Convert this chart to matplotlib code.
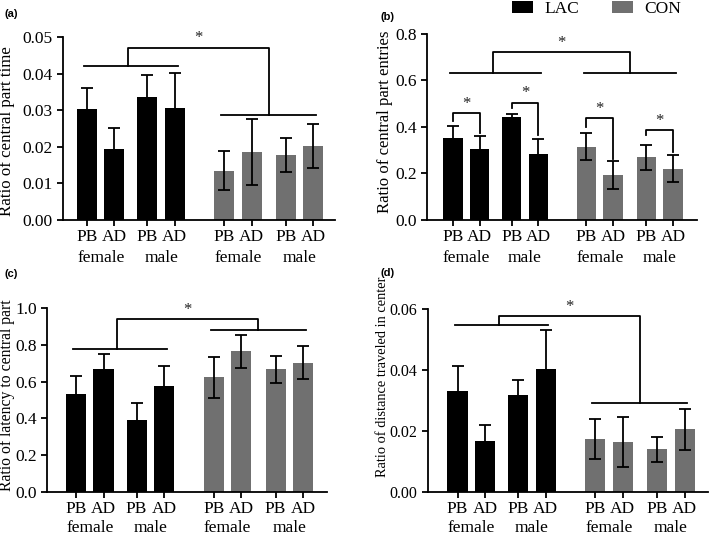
import matplotlib
matplotlib.use("Agg")
import matplotlib.pyplot as plt
import numpy as np

plt.rcParams['font.family'] = ['Liberation Serif', 'DejaVu Serif']

# bar order: PB female, AD female, PB male, AD male
pos_lac = [0, 1, 2.2, 3.2]
pos_con = [5.0, 6.0, 7.25, 8.25]
sub_labels = ['PB', 'AD', 'PB', 'AD']
sex_labels = ['female', 'male']

# (a) central part time
a_lac = [0.0302, 0.0195, 0.0336, 0.0305]
a_lac_err = [0.0058, 0.0057, 0.0060, 0.0098]
a_con = [0.0135, 0.0185, 0.0177, 0.0201]
a_con_err = [0.0054, 0.0090, 0.0047, 0.0060]

# (b) central part entries
b_lac = [0.352, 0.306, 0.442, 0.284]
b_lac_err = [0.054, 0.056, 0.015, 0.064]
b_con = [0.316, 0.194, 0.269, 0.220]
b_con_err = [0.058, 0.061, 0.052, 0.058]

# (c) latency to central part
c_lac = [0.531, 0.669, 0.393, 0.578]
c_lac_err = [0.102, 0.082, 0.092, 0.107]
c_con = [0.623, 0.764, 0.667, 0.703]
c_con_err = [0.110, 0.088, 0.073, 0.089]

# (d) distance traveled in center
d_lac = [0.0332, 0.0166, 0.0317, 0.0404]
d_lac_err = [0.0080, 0.0055, 0.0051, 0.0126]
d_con = [0.0173, 0.0165, 0.0140, 0.0205]
d_con_err = [0.0066, 0.0082, 0.0041, 0.0067]

GRAY = '#707070'
LW = 1.3

fig = plt.figure(figsize=(7.09, 5.35), dpi=100)


def panel(rect, lac, lac_err, con, con_err, ylim, yticks, fmt, ylabel, xlim,
          labx, laby, labsize, letter, letter_xy, big, pairs=(),
          ytsize=12.5, row2pad=21.5):
    ax = fig.add_axes(rect)
    b1 = ax.bar(pos_lac, lac, width=0.73, color='black', zorder=2)
    b2 = ax.bar(pos_con, con, width=0.73, color=GRAY, zorder=2)
    ax.errorbar(pos_lac, lac, yerr=lac_err, fmt='none', ecolor='black',
                elinewidth=LW, capsize=4, capthick=LW, zorder=3)
    ax.errorbar(pos_con, con, yerr=con_err, fmt='none', ecolor='black',
                elinewidth=LW, capsize=4, capthick=LW, zorder=3)
    ax.set_xlim(*xlim)
    ax.set_ylim(*ylim)
    ax.set_yticks(yticks)
    ax.set_yticklabels([fmt.format(v) for v in yticks])
    ax.set_xticks(pos_lac + pos_con)
    ax.set_xticklabels(sub_labels * 2)
    mids = [(pos_lac[0] + pos_lac[1]) / 2, (pos_lac[2] + pos_lac[3]) / 2,
            (pos_con[0] + pos_con[1]) / 2, (pos_con[2] + pos_con[3]) / 2]
    ax.set_xticks(mids, minor=True)
    ax.set_xticklabels(sex_labels * 2, minor=True)
    for s in ['top', 'right']:
        ax.spines[s].set_visible(False)
    for s in ['left', 'bottom']:
        ax.spines[s].set_linewidth(LW)
    ax.tick_params(axis='both', which='major', labelsize=12.5, width=LW, length=4)
    ax.tick_params(axis='y', labelsize=ytsize)
    ax.tick_params(axis='x', which='major', pad=2.5)
    ax.tick_params(axis='x', which='minor', length=0, pad=row2pad, labelsize=12.5)
    ax.set_ylabel(ylabel, fontsize=labsize)
    ax.yaxis.set_label_coords(labx, laby)

    # group comparison bracket
    lac_y, con_y, top_y = big
    l0, l1 = pos_lac[0] - 0.1, pos_lac[-1] + 0.1
    c0, c1 = pos_con[0] - 0.1, pos_con[-1] + 0.1
    lm = (pos_lac[0] + pos_lac[-1]) / 2 - 0.1
    cm = (pos_con[0] + pos_con[-1]) / 2
    kw = dict(color='black', lw=LW, clip_on=False, zorder=4)
    ax.plot([l0, l1], [lac_y, lac_y], **kw)
    ax.plot([c0, c1], [con_y, con_y], **kw)
    ax.plot([lm, lm, cm, cm], [lac_y, top_y, top_y, con_y], **kw)
    ax.annotate('*', xy=((lm + cm) / 2, top_y), xytext=(0, 1),
                textcoords='offset points', ha='center', va='bottom',
                fontsize=12, color='#222222')

    # pairwise PB vs AD brackets
    for x0, x1, ty, yl, yr in pairs:
        ax.plot([x0, x0, x1, x1], [yl, ty, ty, yr], **kw)
        ax.annotate('*', xy=((x0 + x1) / 2, ty), xytext=(0, 1),
                    textcoords='offset points', ha='center', va='bottom',
                    fontsize=12, color='#222222')

    fig.text(letter_xy[0], letter_xy[1], letter, fontsize=8, fontweight='bold',
             family='Liberation Sans', ha='left', va='top')
    return b1, b2


panel([0.0889, 0.5888, 0.384, 0.342], a_lac, a_lac_err, a_con, a_con_err,
      (0, 0.05), [0, 0.01, 0.02, 0.03, 0.04, 0.05], '{:.2f}',
      'Ratio of central part time', (-0.876, 9.05), -0.176, 0.486, 12.2,
      '(a)', (0.007, 0.983), (0.0422, 0.0286, 0.0471))

hb = panel([0.6023, 0.5888, 0.381, 0.3477], b_lac, b_lac_err, b_con, b_con_err,
           (0, 0.8), [0, 0.2, 0.4, 0.6, 0.8], '{:.1f}',
           'Ratio of central part entries', (-0.975, 9.15), -0.126, 0.53, 12.1,
           '(b)', (0.536, 0.978), (0.633, 0.633, 0.721),
           pairs=[(pos_lac[0], pos_lac[1], 0.459, 0.427, 0.376),
                  (pos_lac[2], pos_lac[3], 0.505, 0.48, 0.366),
                  (pos_con[0], pos_con[1], 0.437, 0.40, 0.261),
                  (pos_con[2], pos_con[3], 0.387, 0.366, 0.294)])

panel([0.0663, 0.0804, 0.395, 0.3439], c_lac, c_lac_err, c_con, c_con_err,
      (0, 1.0), [0, 0.2, 0.4, 0.6, 0.8, 1.0], '{:.1f}',
      'Ratio of latency to central part', (-1.054, 9.12), -0.114, 0.527, 11.3,
      '(c)', (0.007, 0.497), (0.778, 0.878, 0.94), row2pad=20)

panel([0.6037, 0.0804, 0.395, 0.342], d_lac, d_lac_err, d_con, d_con_err,
      (0, 0.06), [0, 0.02, 0.04, 0.06], '{:.2f}',
      'Ratio of distance traveled in center', (-1.072, 9.10), -0.141, 0.63, 10.4,
      '(d)', (0.536, 0.499), (0.0548, 0.0292, 0.0576),
      ytsize=11.5, row2pad=20)

fig.legend([hb[0], hb[1]], ['LAC', 'CON'], loc='upper left',
           bbox_to_anchor=(0.722, 0.999), ncol=2, frameon=False,
           fontsize=12.5, handlelength=1.2, handleheight=0.75,
           handletextpad=0.65, columnspacing=1.9, borderpad=0,
           borderaxespad=0)

fig.savefig('out.png', dpi=100)
